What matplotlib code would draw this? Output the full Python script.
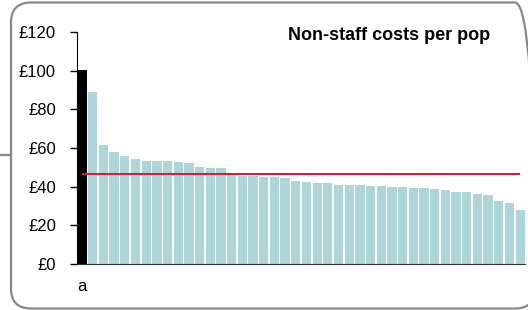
import matplotlib
matplotlib.use("Agg")
import matplotlib.pyplot as plt
from matplotlib.patches import FancyBboxPatch
from matplotlib.lines import Line2D

plt.rcParams['font.family'] = ['Liberation Sans', 'DejaVu Sans']

# data (first bar highlighted)
labels = ["a"] + [""] * 41
costs = [100.3, 89.1, 61.4, 57.9, 56.0, 54.2, 53.3, 53.3, 53.3, 52.9,
         52.2, 50.0, 49.7, 49.7, 46.0, 45.5, 45.5, 45.0, 45.0, 44.7,
         42.8, 42.4, 41.7, 41.7, 41.0, 40.7, 40.7, 40.2, 40.2, 39.8,
         39.8, 39.5, 39.5, 38.8, 38.4, 37.4, 37.4, 36.4, 35.7, 32.8,
         31.7, 28.1]
average = 46.6
yticks = [0, 20, 40, 60, 80, 100, 120]
title = "Non-staff costs per pop"

fig = plt.figure(figsize=(5.28, 3.10), dpi=100)

# rounded frame around the chart (runs off the right edge)
frame = FancyBboxPatch((0.11, 0.015), 5.24, 3.06,
                       boxstyle="round,pad=0,rounding_size=0.2",
                       transform=fig.dpi_scale_trans,
                       facecolor="none", edgecolor="#888888", linewidth=1.6,
                       zorder=-1)
fig.patches.append(frame)
fig.lines.append(Line2D([0, 0.11], [1.55, 1.55], transform=fig.dpi_scale_trans,
                        color="#888888", linewidth=1.6))

ax = fig.add_axes([0.1453, 0.1484, 0.849, 0.7484])
ax.patch.set_alpha(0)

x = list(range(len(costs)))
colors = ["black"] + ["#aed5d8"] * (len(costs) - 1)
ax.bar(x, costs, width=0.87, color=colors, zorder=2)
ax.hlines(average, 0, len(costs) - 1, color="#d21f3c", linewidth=1.5, zorder=3)

ax.set_xlim(-0.5, 41.45)
ax.set_ylim(0, 120)
ax.set_yticks(yticks)
ax.set_yticklabels([f"£{v}" for v in yticks], fontsize=12)
ax.set_xticks(x)
ax.set_xticklabels(labels, fontsize=12)
ax.tick_params(axis="x", length=0, pad=11)
ax.tick_params(axis="y", length=5, width=1, pad=10, direction="out")

for s in ["top", "right"]:
    ax.spines[s].set_visible(False)
ax.spines["left"].set_color("black")
ax.spines["bottom"].set_color("#333333")

fig.text(490 / 528, 1 - 35 / 310, title, ha="right", va="center",
         fontsize=13, fontweight="bold")

fig.savefig("out.png", dpi=100)
